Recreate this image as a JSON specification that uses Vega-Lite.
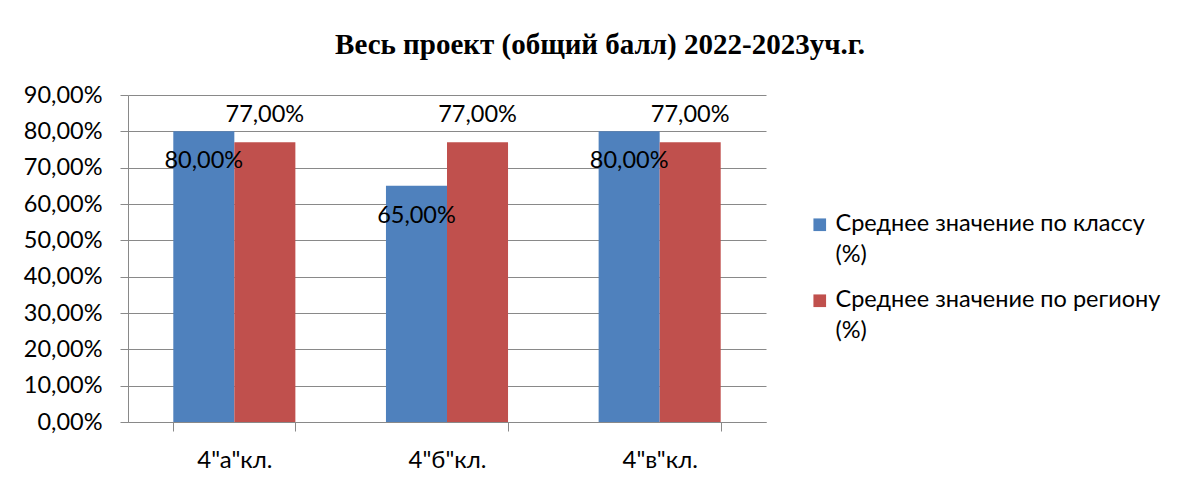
{
  "$schema": "https://vega.github.io/schema/vega-lite/v6.json",
  "width": 638,
  "height": 327,
  "autosize": {"type": "none"},
  "padding": {"left": 128, "top": 95, "right": 418, "bottom": 61},
  "background": "white",
  "title": {
    "text": "Весь проект (общий балл) 2022-2023уч.г.",
    "font": "Liberation Serif",
    "fontSize": 29,
    "fontWeight": "bold",
    "color": "black",
    "anchor": "middle",
    "frame": "group",
    "dx": 153,
    "offset": 23
  },
  "data": {
    "values": [
      {"class": "4\"а\"кл.", "series": "Среднее значение по классу (%)", "value": 0.80},
      {"class": "4\"а\"кл.", "series": "Среднее значение по региону (%)", "value": 0.77},
      {"class": "4\"б\"кл.", "series": "Среднее значение по классу (%)", "value": 0.65},
      {"class": "4\"б\"кл.", "series": "Среднее значение по региону (%)", "value": 0.77},
      {"class": "4\"в\"кл.", "series": "Среднее значение по классу (%)", "value": 0.80},
      {"class": "4\"в\"кл.", "series": "Среднее значение по региону (%)", "value": 0.77}
    ]
  },
  "transform": [
    {"calculate": "replace(format(datum.value, '.2%'), '.', ',')", "as": "label"}
  ],
  "encoding": {
    "x": {
      "field": "class",
      "type": "nominal",
      "sort": null,
      "scale": {"paddingInner": 0.426, "paddingOuter": 0.213},
      "axis": {
        "title": null,
        "labelAngle": 0,
        "labelFont": "Lato, Noto Sans",
        "labelFontSize": 24,
        "labelColor": "black",
        "labelPadding": 17,
        "tickBand": "extent",
        "tickSize": 9,
        "tickColor": "#898989",
        "domainColor": "#898989",
        "grid": false
      }
    },
    "xOffset": {"field": "series", "sort": null},
    "y": {
      "field": "value",
      "type": "quantitative",
      "scale": {"domain": [0, 0.9], "nice": false},
      "axis": {
        "title": null,
        "values": [0, 0.1, 0.2, 0.3, 0.4, 0.5, 0.6, 0.7, 0.8, 0.9],
        "labelExpr": "replace(format(datum.value, '.2%'), '.', ',')",
        "labelFont": "Lato, Noto Sans",
        "labelFontSize": 23.5,
        "labelColor": "black",
        "labelPadding": 18,
        "tickSize": 8,
        "tickColor": "#898989",
        "domainColor": "#898989",
        "gridColor": "#898989",
        "grid": true
      }
    }
  },
  "layer": [
    {
      "mark": {"type": "bar"},
      "encoding": {
        "color": {
          "field": "series",
          "type": "nominal",
          "sort": null,
          "scale": {"range": ["#4F81BD", "#C0504D"]},
          "legend": {
            "title": null,
            "orient": "none",
            "legendX": 680,
            "legendY": 118,
            "padding": 0,
            "symbolType": "square",
            "symbolSize": 160,
            "symbolStrokeWidth": 0,
            "labelFont": "Lato, Noto Sans",
            "labelFontSize": 23.5,
            "labelColor": "black",
            "labelLimit": 400,
            "labelOffset": 4,
            "labelBaseline": "top",
            "rowPadding": 20,
            "labelExpr": "[replace(datum.label, ' (%)', ''), '(%)']",
            "encode": {
              "labels": {
                "update": {
                  "lineHeight": {"value": 31},
                  "dy": {"value": -13}
                }
              }
            }
          }
        }
      }
    },
    {
      "transform": [{"filter": "datum.series == 'Среднее значение по классу (%)'"}],
      "mark": {"type": "text", "dy": 30, "font": "Lato, Noto Sans", "fontSize": 23.5, "color": "black"},
      "encoding": {"text": {"field": "label"}}
    },
    {
      "transform": [{"filter": "datum.series == 'Среднее значение по региону (%)'"}],
      "mark": {"type": "text", "dy": -27, "font": "Lato, Noto Sans", "fontSize": 23.5, "color": "black"},
      "encoding": {"text": {"field": "label"}}
    }
  ],
  "config": {"view": {"stroke": null}}
}
